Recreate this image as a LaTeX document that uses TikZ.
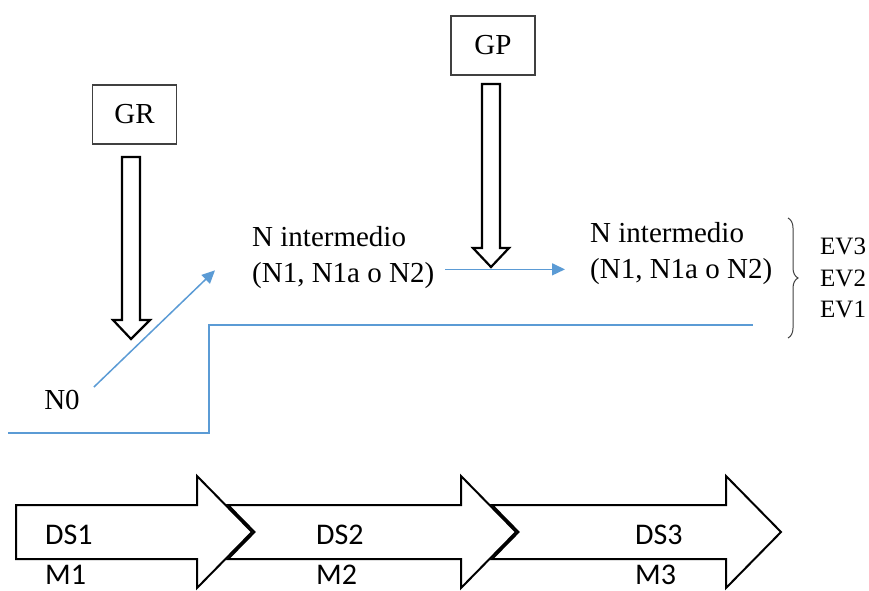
\documentclass[tikz,border=0pt]{standalone}
\usepackage{fontspec}
\setmainfont{Liberation Serif}
\newfontfamily\calfont{Carlito}
\usepackage{tikz}
\usetikzlibrary{arrows.meta,decorations.pathreplacing}
\definecolor{lblue}{RGB}{91,155,213}
\definecolor{dgray}{RGB}{64,64,64}

\begin{document}
\begin{tikzpicture}[x=1pt,y=-1pt]
\tikzstyle{box}=[draw=dgray,line width=1.2pt,minimum width=84pt,minimum height=59pt,inner sep=0pt,font=\fontsize{29}{34}\selectfont]
\tikzstyle{txt}=[inner sep=0pt,align=left,font=\fontsize{29}{36}\selectfont]
\tikzstyle{ds}=[inner sep=0pt,anchor=west,font=\calfont\fontsize{30}{36}\selectfont]
\tikzstyle{hollow}=[draw=black,line width=2.2pt,fill=white,line join=miter]
\tikzstyle{big}=[draw=black,line width=2pt,fill=white,line join=miter]
\tikzstyle{link}=[draw=lblue,line width=1.5pt,-{Triangle[length=13pt,width=12pt]}]
\useasboundingbox (0,0) rectangle (869,590);

\node [box] (gr) at (134.5,114.5) {GR};
\node [box] (gp) at (493,45.5) {GP};
\node [txt] (n0) at (62,400) {N0};
\node [txt,anchor=north west] (ni1) at (252,226) {N intermedio\\(N1, N1a o N2)};
\node [txt,anchor=north west] (ni2) at (590,222) {N intermedio\\(N1, N1a o N2)};
\node [txt,anchor=west,font=\fontsize{25}{31.5}\selectfont] (ev) at (820,278) {EV3\\EV2\\EV1};

\draw[lblue,line width=1.5pt] (8,433) -- (209,433) -- (209,325) -- (753,325);
\draw[link] ([shift={(14,-3)}]n0.north east) -- ([shift={(-37,13)}]ni1.west);
\draw[link] ([shift={(11,12)}]ni1.east) -- ([shift={(-25,16)}]ni2.west);

\draw[hollow] (122,157) -- (140,157) -- (140,320) -- (150,320) -- (131,339) -- (113,320) -- (122,320) -- cycle;
\draw[hollow] (482,84) -- (500,84) -- (500,248) -- (509,248) -- (491,267) -- (473,248) -- (482,248) -- cycle;

\draw[dgray,line width=1pt,decorate,decoration={brace,amplitude=10pt}] (788,218) -- (788,338);

\draw[big] (492,505) -- (726,505) -- (726,476) -- (781,532) -- (726,588) -- (726,559) -- (492,559) -- (518.5,532) -- cycle;
\draw[big] (228,505) -- (461,505) -- (461,476) -- (516,532) -- (461,588) -- (461,559) -- (228,559) -- (254.5,532) -- cycle;
\draw[big] (16,505) -- (197,505) -- (197,476) -- (252,532) -- (197,588) -- (197,559) -- (16,559) -- cycle;

\node [ds] (ds1) at (45,535) {DS1};
\node [ds] (m1) at (45,575) {M1};
\node [ds] (ds2) at (316,535) {DS2};
\node [ds] (m2) at (316,575) {M2};
\node [ds] (ds3) at (635,535) {DS3};
\node [ds] (m3) at (635,575) {M3};
\end{tikzpicture}
\end{document}
